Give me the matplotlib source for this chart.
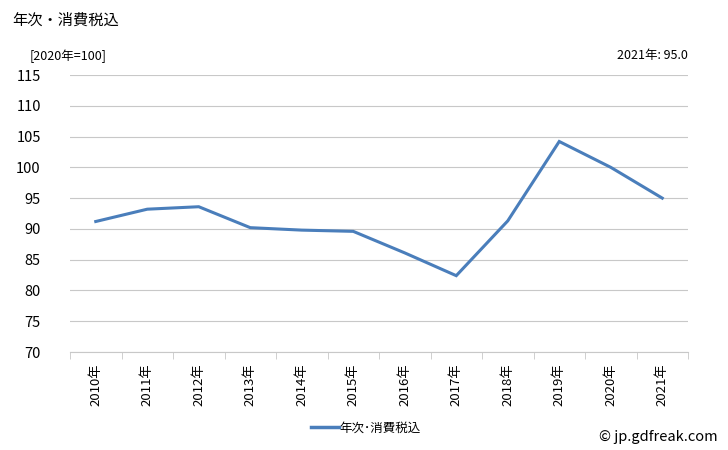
import matplotlib
matplotlib.use("Agg")
import matplotlib.pyplot as plt
import numpy as np

plt.rcParams['font.family'] = ['Noto Sans CJK JP', 'DejaVu Sans']

# data
years = ['2010年', '2011年', '2012年', '2013年', '2014年', '2015年',
         '2016年', '2017年', '2018年', '2019年', '2020年', '2021年']
values = [91.2, 93.2, 93.6, 90.2, 89.8, 89.6, 86.1, 82.4, 91.3, 104.2, 100.0, 95.0]
yticks = [70, 75, 80, 85, 90, 95, 100, 105, 110, 115]

line_color = '#4a7ebb'
grid_color = '#c8c8c8'

fig = plt.figure(figsize=(7.28, 4.5), dpi=100)
ax = fig.add_axes([70/728, 1 - 352/450, 618/728, 277/450])

x = np.arange(len(years))
ax.plot(x, values, color=line_color, linewidth=2.2, solid_joinstyle='miter')

ax.set_xlim(-0.5, len(years) - 0.5)
ax.set_ylim(70, 115)
ax.set_yticks(yticks)
ax.set_yticklabels([str(v) for v in yticks], fontsize=10.5)
ax.yaxis.grid(True, color=grid_color, linewidth=0.8)
ax.set_axisbelow(True)

# category labels at centres, tick marks at category boundaries
ax.set_xticks(x)
ax.set_xticklabels(years, rotation=90, fontsize=9.5)
ax.tick_params(axis='x', length=0, pad=8)
ax.set_xticks(np.arange(-0.5, len(years)), minor=True)
ax.tick_params(axis='x', which='minor', length=5, color=grid_color, direction='out')
ax.tick_params(axis='y', length=0, pad=21)

for side in ['top', 'right', 'left']:
    ax.spines[side].set_visible(False)
ax.spines['bottom'].set_color(grid_color)

fig.text(12/728, 1 - 20/450, '年次・消費税込', fontsize=11, va='center', ha='left')
fig.text(30/728, 1 - 56/450, '[2020年=100]', fontsize=9, va='center', ha='left')
fig.text(688/728, 1 - 56/450, '2021年: 95.0', fontsize=9, va='center', ha='right')

# legend
fig.legend(handles=[plt.Line2D([], [], color=line_color, linewidth=2.5)],
           labels=['年次･消費税込'], loc='center', bbox_to_anchor=(366/728, 1 - 428/450),
           frameon=False, fontsize=9, handlelength=2.2, handletextpad=0.1)

fig.text(718/728, 1 - 437/450, '© jp.gdfreak.com', fontsize=10.5, va='center', ha='right')

fig.savefig('out.png', dpi=100)
